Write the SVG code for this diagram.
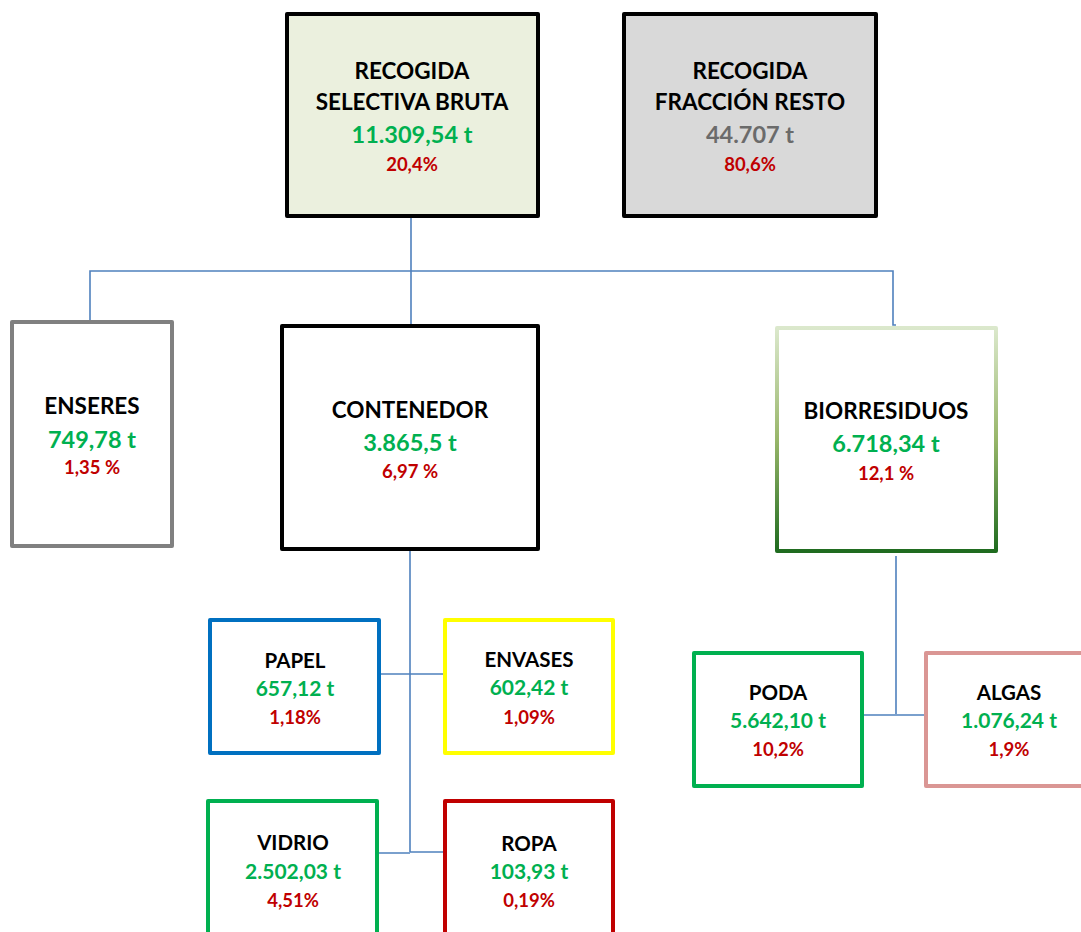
<svg xmlns="http://www.w3.org/2000/svg" width="1081" height="932" viewBox="0 0 1081 932">
<style>
text{font-family:Lato,"Liberation Sans",sans-serif;font-weight:bold;text-anchor:middle}
.t{font-size:22.5px;fill:#000}
.v{font-size:23.5px;fill:#00b050}
.p{font-size:18.5px;fill:#c00000}
.ts{font-size:20.5px;fill:#000}
.vs{font-size:21px;fill:#00b050}
.ps{font-size:18.5px;fill:#c00000}
.box{fill:#fff;stroke-width:4;stroke-linejoin:round}
.c{fill:none;stroke:#4f81bd;stroke-width:1.6}
</style>
<defs>
<linearGradient id="gbio" x1="0" y1="0" x2="0" y2="1">
<stop offset="0" stop-color="#dbe8cc"/>
<stop offset="0.5" stop-color="#98b66a"/>
<stop offset="1" stop-color="#1f6b1f"/>
</linearGradient>
</defs>
<rect width="1081" height="932" fill="#fff"/>
<g id="connectors">
<path class="c" d="M411,216 V326 M90,322 V271 H893 V325 H896"/>
<path class="c" d="M410,549 V852 M379,674 H445 M377,853 H410 M410,852 H446"/>
<path class="c" d="M896,556 V714 M864,715 H926"/>
</g>
<g id="selectiva">
<rect class="box" x="287" y="14" width="251" height="202" style="fill:#ebf0de" stroke="#000" stroke-width="5"/>
<text class="t" x="412" y="79">RECOGIDA</text>
<text class="t" x="412" y="110">SELECTIVA BRUTA</text>
<text class="v" x="412" y="143">11.309,54 t</text>
<text class="p" x="412" y="171">20,4%</text>
</g>
<g id="resto">
<rect class="box" x="624" y="14" width="252" height="202" style="fill:#d9d9d9" stroke="#000" stroke-width="5"/>
<text class="t" x="750" y="79">RECOGIDA</text>
<text class="t" x="750" y="110">FRACCIÓN RESTO</text>
<text class="v" x="750" y="143" style="fill:#6b6b6b">44.707 t</text>
<text class="p" x="750" y="171">80,6%</text>
</g>
<g id="enseres">
<rect class="box" x="12" y="322" width="160" height="224" stroke="#808080"/>
<text class="t" x="92" y="414">ENSERES</text>
<text class="v" x="92" y="448">749,78 t</text>
<text class="p" x="92" y="474">1,35 %</text>
</g>
<g id="contenedor">
<rect class="box" x="282" y="326" width="256" height="223" stroke="#000" stroke-width="5"/>
<text class="t" x="410" y="418">CONTENEDOR</text>
<text class="v" x="410" y="451">3.865,5 t</text>
<text class="p" x="410" y="478">6,97 %</text>
</g>
<g id="biorresiduos">
<rect class="box" x="777" y="328" width="219" height="223" stroke="url(#gbio)"/>
<text class="t" x="886" y="419">BIORRESIDUOS</text>
<text class="v" x="886" y="452">6.718,34 t</text>
<text class="p" x="886" y="480">12,1 %</text>
</g>
<g id="papel">
<rect class="box" x="210" y="620" width="169" height="133" stroke="#0070c0"/>
<text class="ts" x="295" y="668">PAPEL</text>
<text class="vs" x="295" y="696">657,12 t</text>
<text class="ps" x="295" y="724">1,18%</text>
</g>
<g id="envases">
<rect class="box" x="445" y="620" width="168" height="133" stroke="#ffff00"/>
<text class="ts" x="529" y="667">ENVASES</text>
<text class="vs" x="529" y="695">602,42 t</text>
<text class="ps" x="529" y="724">1,09%</text>
</g>
<g id="vidrio">
<rect class="box" x="208" y="801" width="169" height="140" stroke="#00b050"/>
<text class="ts" x="293" y="850">VIDRIO</text>
<text class="vs" x="293" y="879">2.502,03 t</text>
<text class="ps" x="293" y="907">4,51%</text>
</g>
<g id="ropa">
<rect class="box" x="445" y="801" width="168" height="140" stroke="#c00000"/>
<text class="ts" x="529" y="851">ROPA</text>
<text class="vs" x="529" y="879">103,93 t</text>
<text class="ps" x="529" y="907">0,19%</text>
</g>
<g id="poda">
<rect class="box" x="694" y="653" width="168" height="133" stroke="#00b050"/>
<text class="ts" x="778" y="700">PODA</text>
<text class="vs" x="778" y="728">5.642,10 t</text>
<text class="ps" x="778" y="756">10,2%</text>
</g>
<g id="algas">
<rect class="box" x="926" y="653" width="165" height="133" stroke="#da9694"/>
<text class="ts" x="1009" y="700">ALGAS</text>
<text class="vs" x="1009" y="728">1.076,24 t</text>
<text class="ps" x="1009" y="756">1,9%</text>
</g>
</svg>
